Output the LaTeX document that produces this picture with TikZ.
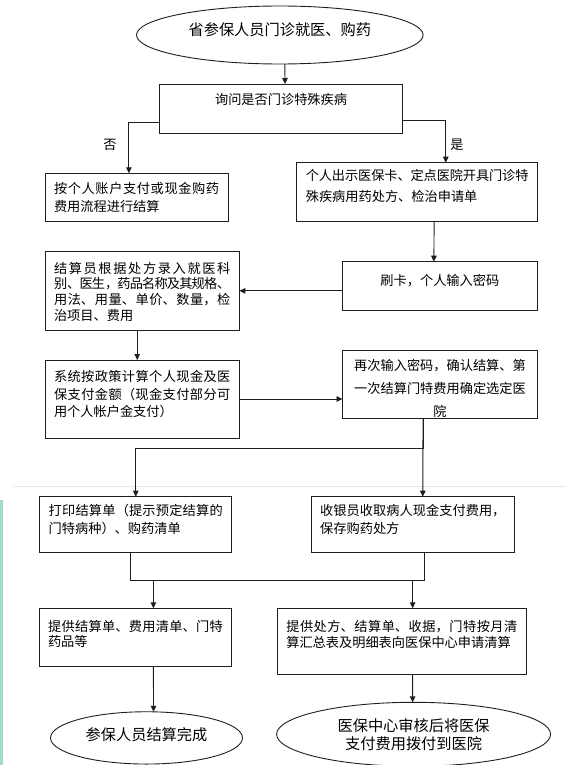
\documentclass[tikz,border=0pt]{standalone}
\usepackage{fontspec}
\setmainfont{Noto Sans CJK SC}
\usepackage{tikz}
\usetikzlibrary{arrows.meta,shapes.geometric}
\definecolor{linecol}{RGB}{30,30,30}
\definecolor{seamgray}{RGB}{232,232,232}
\definecolor{edgeteal}{RGB}{160,220,200}
\XeTeXlinebreaklocale "zh"
\XeTeXlinebreakskip=0pt plus 2pt minus 1pt

\begin{document}
\begin{tikzpicture}[
  x=1pt, y=-1pt, line width=0.9pt,
  procbox/.style={draw=linecol, anchor=north west, inner xsep=9pt, inner ysep=0pt,
    outer sep=0pt, align=justify, font=\fontsize{13.2}{18}\selectfont},
  termnode/.style={draw=linecol, ellipse, inner sep=0pt, outer sep=0pt, align=center,
    font=\fontsize{15.2}{18}\selectfont},
  lbl/.style={font=\fontsize{13.2}{16}\selectfont, inner sep=0pt},
  arr/.style={-{Triangle[length=6pt,width=5.5pt]}, linecol},
  link/.style={linecol}
]
\useasboundingbox (0,0) rectangle (566,765);
% scan seams
\fill[edgeteal] (0,500) rectangle (3,765);
\draw[seamgray, line width=0.6pt] (14,486.5) -- (566,486.5);

\node[termnode, minimum width=286.6pt, minimum height=58pt, text height=8pt, text depth=6.4pt]
  (start) at (279.8,35) {省参保人员门诊就医、购药};
\node[procbox, align=flush center, text width=224.9pt, text height=21pt, text depth=28.3pt]
  (ask) at (159.6,84) {询问是否门诊特殊疾病};

% left branch
\node[procbox, text width=165.2pt, text height=20pt, text depth=28.4pt]
  (noacct) at (45,173.3) {按个人账户支付或现金购药\linebreak 费用流程进行结算};
\node[procbox, text width=176.4pt, text height=21.6pt, text depth=56.7pt,
  font=\fontsize{13.2}{15.6}\selectfont]
  (entry) at (45,251.7) {结算员根据处方录入就医科\linebreak 别、医生，药品名称及其规格、\linebreak 用法、用量、单价、数量，检\linebreak 治项目、费用};
\node[procbox, text width=176.4pt, text height=21.7pt, text depth=56.3pt,
  font=\fontsize{13.2}{17.5}\selectfont]
  (calc) at (45,360) {系统按政策计算个人现金及医\linebreak 保支付金额（现金支付部分可\linebreak 用个人帐户金支付）};

% right branch
\node[procbox, text width=222.7pt, text height=17.3pt, text depth=41.7pt,
  font=\fontsize{13.2}{21.7}\selectfont]
  (card) at (296.8,162.7) {个人出示医保卡、定点医院开具门诊特\linebreak 殊疾病用药处方、检治申请单};
\node[procbox, align=flush center, text width=177.3pt, text height=23.3pt, text depth=25.7pt]
  (swipe) at (342.2,261.7) {刷卡，个人输入密码};
\node[procbox, align=flush center, text width=177pt, text height=20pt, text depth=48.3pt,
  font=\fontsize{13.2}{23.3}\selectfont]
  (confirm) at (342.5,350) {再次输入密码，确认结算、第\\一次结算门特费用确定选定医\\院};

% settlement
\node[procbox, text width=174.1pt, text height=18.3pt, text depth=37.3pt]
  (print) at (39.7,496.7) {打印结算单（提示预定结算的\linebreak 门特病种）、购药清单};
\node[procbox, text width=185.2pt, text height=18.3pt, text depth=37.3pt]
  (cashier) at (311.2,496.7) {收银员收取病人现金支付费用，\linebreak 保存购药处方};
\node[procbox, text width=174.8pt, text height=23.4pt, text depth=34.3pt,
  font=\fontsize{13.2}{15}\selectfont]
  (docs) at (39,608.3) {提供结算单、费用清单、门特\linebreak 药品等};
\node[procbox, text width=231.1pt, text height=22.7pt, text depth=43pt,
  font=\fontsize{13.2}{16.7}\selectfont]
  (apply) at (277.3,608.3) {提供处方、结算单、收据，门特按月清\linebreak 算汇总表及明细表向医保中心申请清算};
\node[termnode, minimum width=192pt, minimum height=52.3pt, text height=10pt, text depth=4.2pt]
  (doneL) at (146.5,737.9) {参保人员结算完成};
\node[termnode, minimum width=274pt, minimum height=64pt]
  (doneR) at (413.6,734.3) {医保中心审核后将医保\\支付费用拨付到医院};

\node[lbl] (nolbl) at (110,145) {否};
\node[lbl] (yeslbl) at (457,145) {是};

\draw[arr] ([xshift=5pt]start.south) -- ([xshift=4pt]ask.north);
\draw[arr] ([yshift=-14pt]ask.west) -| ([xshift=-7.7pt]noacct.north);
\draw[arr] ([yshift=-12pt]ask.east) -| ([xshift=28.6pt]card.north);
\draw[arr] ([xshift=17pt]card.south) -- ([xshift=-6pt]swipe.north);
\draw[arr] (swipe.west |- entry.east) -- (entry.east);
\draw[arr] ([xshift=-5pt]entry.south) -- ([xshift=-5pt]calc.north);
\draw[arr] (calc.east) -- (calc.east -| confirm.west);
\draw[arr] ([xshift=-17pt]confirm.south) -- ++(0,30) -| (print.north);
\draw[arr] ([xshift=-17pt]confirm.south) -- ([xshift=10pt]cashier.north);
\draw[link] ([xshift=-5pt]print.south) -- ++(0,27.7) -| ([xshift=11.4pt]cashier.south);
\draw[arr] ([xshift=18pt,yshift=28.3pt]docs.north) -- ([xshift=18pt]docs.north);
\draw[arr] ([xshift=10.8pt,yshift=28.3pt]apply.north) -- ([xshift=10.8pt]apply.north);
\draw[arr] ([xshift=18pt]docs.south) -- ([xshift=7pt]doneL.north);
\draw[arr] ([xshift=10.8pt]apply.south) -- ([xshift=-1pt]doneR.north);
\end{tikzpicture}
\end{document}
